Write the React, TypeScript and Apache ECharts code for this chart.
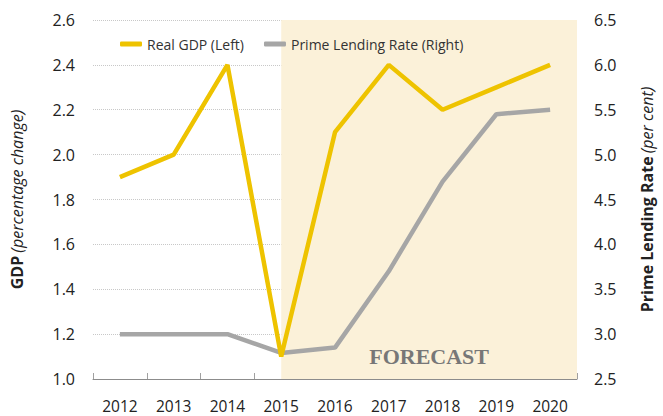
import React, { useEffect, useRef } from "react";
import * as echarts from "echarts";

const years = ["2012", "2013", "2014", "2015", "2016", "2017", "2018", "2019", "2020"];
const realGdp = [1.9, 2.0, 2.4, 1.1, 2.1, 2.4, 2.2, 2.3, 2.4];
const primeRate = [3.0, 3.0, 3.0, 2.79, 2.85, 3.7, 4.7, 5.45, 5.5];
const forecastStart = "2015";

const FONT = "'Open Sans', 'Noto Sans', sans-serif";
const YELLOW = "#EEC300";
const GREY = "#A6A6A6";

export default function App() {
  const ref = useRef<HTMLDivElement>(null);
  useEffect(() => {
    if (!ref.current) return;
    const chart = echarts.init(ref.current, null, { renderer: "svg" });
    chart.setOption({
      animation: false,
      backgroundColor: "#ffffff",
      textStyle: { fontFamily: FONT },
      grid: { left: 93, right: 86, top: 20, bottom: 37, containLabel: false, outerBoundsMode: "none" },
      legend: {
        left: 115,
        top: 32,
        itemWidth: 22,
        itemHeight: 5,
        itemGap: 20,
        icon: "roundRect",
        textStyle: { fontFamily: FONT, fontSize: 14, color: "#333" },
        data: ["Real GDP (Left)", "Prime Lending Rate (Right)"],
      },
      xAxis: {
        type: "category",
        data: years,
        boundaryGap: true,
        axisLine: { lineStyle: { color: "#8c8c8c", width: 1 } },
        axisTick: { show: true, inside: true, length: 6, lineStyle: { color: "#a0a0a0" } },
        axisLabel: { fontFamily: FONT, fontSize: 15.5, lineHeight: 16, color: "#222", margin: 19 },
        splitLine: { show: false },
      },
      yAxis: [
        {
          type: "value",
          min: 1.0,
          max: 2.6,
          interval: 0.2,
          position: "left",
          axisLine: { show: false },
          axisTick: { show: false },
          axisLabel: {
            fontFamily: FONT,
            fontSize: 16,
            color: "#222",
            margin: 18,
            formatter: (v: number) => v.toFixed(1),
          },
          splitLine: { show: true, lineStyle: { color: "#c8c8c8", type: "dotted", width: 1 } },
          name: "{b|GDP} {i|(percentage change)}",
          nameLocation: "middle",
          nameGap: 68,
          nameTextStyle: {
            rich: {
              b: { fontFamily: FONT, fontSize: 16, fontWeight: "bold", color: "#222" },
              i: { fontFamily: FONT, fontSize: 16, fontStyle: "italic", color: "#222" },
            },
          },
        },
        {
          type: "value",
          min: 2.5,
          max: 6.5,
          interval: 0.5,
          position: "right",
          axisLine: { show: false },
          axisTick: { show: false },
          axisLabel: {
            fontFamily: FONT,
            fontSize: 16,
            color: "#222",
            margin: 17,
            formatter: (v: number) => v.toFixed(1),
          },
          splitLine: { show: false },
          name: "{b|Prime Lending Rate} {i|(per cent)}",
          nameLocation: "middle",
          nameGap: 62,
          nameTextStyle: {
            rich: {
              b: { fontFamily: FONT, fontSize: 16, fontWeight: "bold", color: "#222" },
              i: { fontFamily: FONT, fontSize: 16, fontStyle: "italic", color: "#222" },
            },
          },
        },
      ],
      series: [
        {
          name: "Real GDP (Left)",
          type: "line",
          yAxisIndex: 0,
          data: realGdp,
          symbol: "none",
          z: 3,
          lineStyle: { color: YELLOW, width: 4.5 },
          itemStyle: { color: YELLOW },
          markArea: {
            silent: true,
            itemStyle: { color: "#FBF1D9" },
            label: {
              show: true,
              position: "insideBottom",
              distance: 12,
              fontFamily: "'Liberation Serif', 'DejaVu Serif', serif",
              fontWeight: "bold",
              fontSize: 22,
              color: "#777777",
            },
            data: [[{ xAxis: forecastStart, name: "FORECAST" }, { yAxis: 2.6 }]],
          },
        },
        {
          name: "Prime Lending Rate (Right)",
          type: "line",
          yAxisIndex: 1,
          data: primeRate,
          symbol: "none",
          z: 2,
          lineStyle: { color: GREY, width: 4.5 },
          itemStyle: { color: GREY },
        },
      ],
    });
    return () => chart.dispose();
  }, []);
  return <div ref={ref} style={{ width: 663, height: 416, position: "absolute", left: 0, top: 0 }} />;
}
